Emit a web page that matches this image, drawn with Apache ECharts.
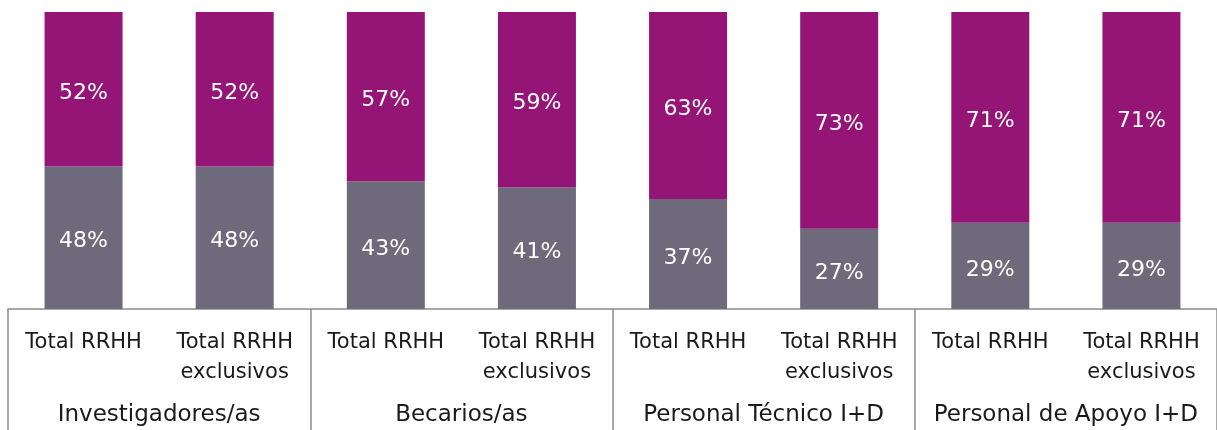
<!DOCTYPE html>
<html>
<head>
<meta charset="utf-8">
<script src="https://cdn.jsdelivr.net/npm/echarts@6/dist/echarts.min.js"></script>
<style>
  html, body { margin: 0; padding: 0; background: #fff; }
  #chart { width: 1217px; height: 430px; }
</style>
</head>
<body>
<div id="chart"></div>
<script>
  // categories (two per group)
  var categories = ['Total RRHH', 'Total RRHH\nexclusivos', 'Total RRHH', 'Total RRHH\nexclusivos',
    'Total RRHH', 'Total RRHH\nexclusivos', 'Total RRHH', 'Total RRHH\nexclusivos']
  var groups = ['Investigadores/as', 'Becarios/as', 'Personal Técnico I+D', 'Personal de Apoyo I+D']
  var grayValues = [48, 48, 43, 41, 37, 27, 29, 29]
  var purpleValues = [52, 52, 57, 59, 63, 73, 71, 71]

  var font = 'DejaVu Sans'
  var chart = echarts.init(document.getElementById('chart'))

  var barLabel = {
    show: true,
    position: 'inside',
    offset: [0, 4],
    formatter: '{c}%',
    color: '#fff',
    fontSize: 22,
    fontFamily: font
  }

  chart.setOption({
    animation: false,
    grid: {
      left: 8,
      width: 1214,
      top: 12,
      bottom: 121,
      containLabel: false
    },
    xAxis: [{
      type: 'category',
      data: categories,
      position: 'bottom',
      axisLine: {
        lineStyle: { color: '#8c8c8c', width: 1.5 }
      },
      axisTick: { show: false },
      axisLabel: {
        interval: 0,
        margin: 19,
        color: '#1a1a1a',
        fontSize: 21,
        lineHeight: 30,
        fontFamily: font
      }
    }, {
      type: 'category',
      data: groups,
      position: 'bottom',
      axisLine: { show: false },
      axisTick: {
        show: true,
        length: 125,
        lineStyle: { color: '#8c8c8c', width: 1.5 }
      },
      axisLabel: {
        interval: 0,
        margin: 95,
        color: '#1a1a1a',
        fontSize: 23,
        fontFamily: font
      }
    }],
    yAxis: {
      type: 'value',
      min: 0,
      max: 100,
      show: false
    },
    series: [
      {
        name: 'gray',
        type: 'bar',
        stack: 'total',
        barWidth: 78,
        xAxisIndex: 0,
        data: grayValues,
        itemStyle: { color: '#6e6a7c' },
        label: barLabel
      },
      {
        name: 'purple',
        type: 'bar',
        stack: 'total',
        barWidth: 78,
        xAxisIndex: 0,
        data: purpleValues,
        itemStyle: { color: '#951577' },
        label: barLabel
      }
    ]
  })
</script>
</body>
</html>
